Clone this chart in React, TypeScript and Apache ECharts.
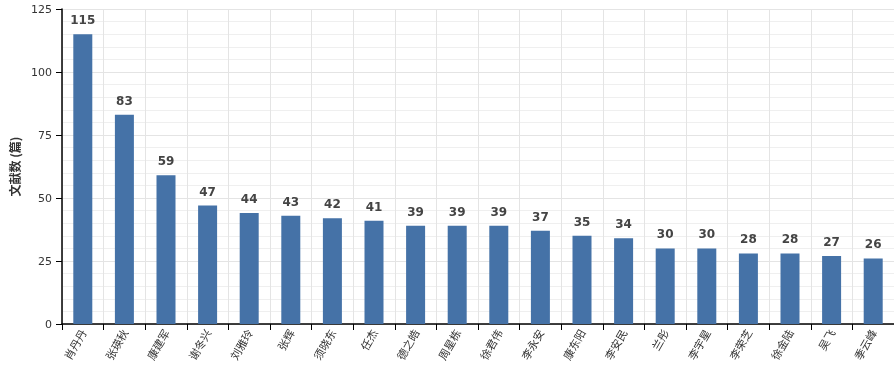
import React, { useEffect, useRef } from "react";
import * as echarts from "echarts";

const authors = ["肖丹丹", "张瑛秋", "康建军", "谢冬兴", "刘雅玲", "张辉", "须晓东", "任杰", "德之皓", "周星栋", "徐君伟", "李永安", "康东阳", "李安民", "兰彤", "李宇星", "李荣芝", "徐金陆", "吴飞", "季云峰"];
const counts = [115, 83, 59, 47, 44, 43, 42, 41, 39, 39, 39, 37, 35, 34, 30, 30, 28, 28, 27, 26];
const yTicks = { min: 0, max: 125, interval: 25 };

export default function App() {
  const ref = useRef<HTMLDivElement>(null);
  useEffect(() => {
    const chart = echarts.init(ref.current!, null, { renderer: "svg" });
    chart.setOption({
      animation: false,
      textStyle: { fontFamily: "DejaVu Sans, Noto Sans CJK SC, sans-serif" },
      grid: { left: 62, right: 0, top: 9, bottom: 46, containLabel: false, outerBoundsMode: "none" },
      xAxis: {
        type: "category",
        data: authors,
        axisLine: { lineStyle: { color: "#000", width: 1.5 } },
        axisTick: { show: true, alignWithLabel: false, length: 6, lineStyle: { color: "#000" } },
        axisLabel: { rotate: 60, color: "#333", fontSize: 11, margin: 6, interval: 0, fontFamily: "Noto Sans CJK SC" },
        splitLine: { show: true, lineStyle: { color: "#e4e4e4" } },
      },
      yAxis: {
        type: "value",
        min: yTicks.min,
        max: yTicks.max,
        interval: yTicks.interval,
        name: "文献数 (篇)",
        nameLocation: "middle",
        nameGap: 39,
        nameTextStyle: { fontWeight: "bold", fontSize: 12, color: "#333", fontFamily: "Noto Sans CJK SC" },
        axisLine: { show: true, lineStyle: { color: "#000", width: 1.5 } },
        axisTick: { show: true, length: 6, lineStyle: { color: "#000" } },
        axisLabel: { color: "#333", fontSize: 11, margin: 10 },
        splitLine: { show: true, lineStyle: { color: "#e4e4e4" } },
        minorTick: { show: false, splitNumber: 5 },
        minorSplitLine: { show: true, lineStyle: { color: "#efefef" } },
      },
      series: [
        {
          type: "bar",
          data: counts,
          barWidth: 19,
          itemStyle: { color: "#4572a7" },
          label: { show: true, position: "top", distance: 8, fontWeight: "bold", fontSize: 12, color: "#444" },
        },
      ],
    });
    return () => chart.dispose();
  }, []);
  return <div ref={ref} style={{ position: "fixed", left: 0, top: 0, width: 894, height: 370 }} />;
}
